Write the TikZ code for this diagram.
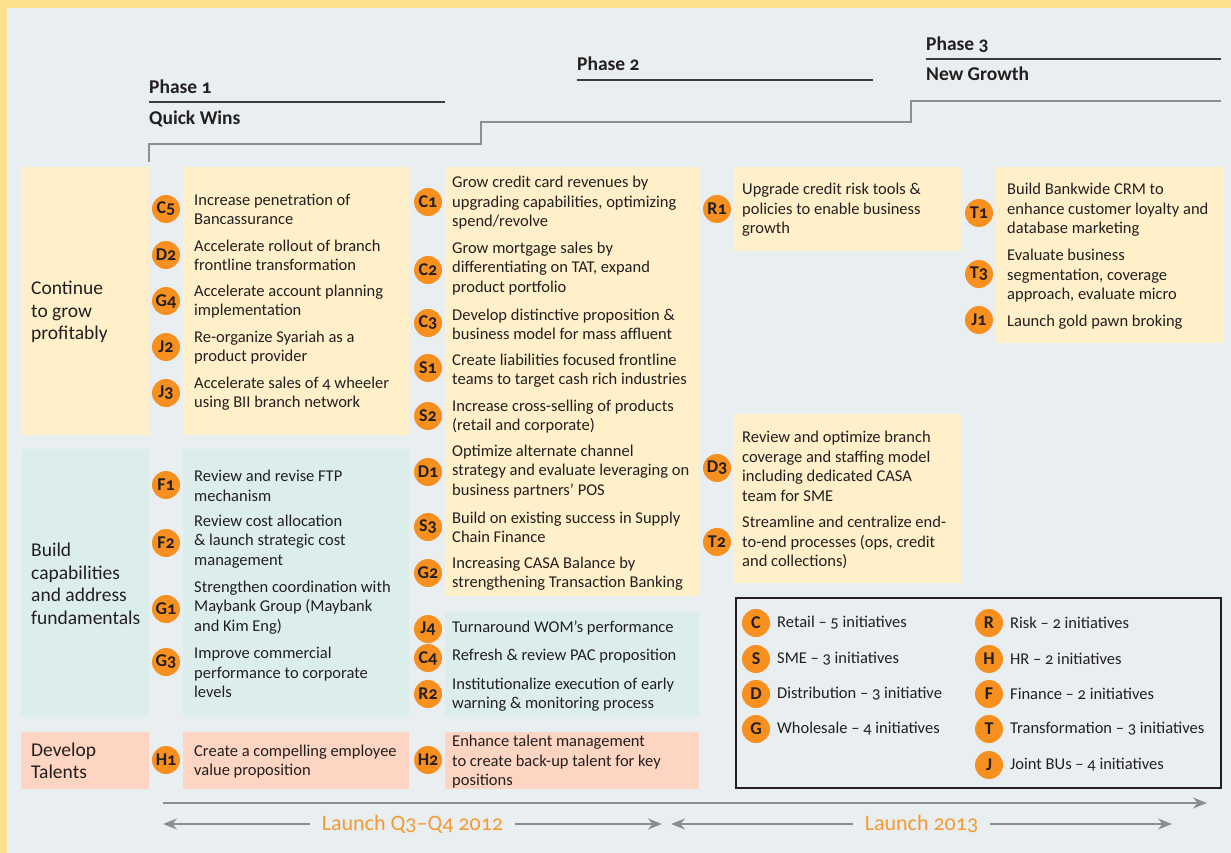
\documentclass[tikz,border=0pt]{standalone}
\usepackage{fontspec}
\setmainfont[Numbers=OldStyle]{Carlito}
\usetikzlibrary{arrows.meta}

\definecolor{frameyellow}{HTML}{FFE08F}
\definecolor{paper}{HTML}{E9EEF1}
\definecolor{growbox}{HTML}{FFF0C9}
\definecolor{buildbox}{HTML}{DCEEEC}
\definecolor{talentbox}{HTML}{FDD5C2}
\definecolor{badgeorange}{HTML}{F7901E}
\definecolor{launchorange}{HTML}{F49A32}
\definecolor{arrowgrey}{HTML}{8E8E8E}
\definecolor{rulegrey}{HTML}{3C3C3C}
\definecolor{ink}{HTML}{231F20}

\begin{document}
\begin{tikzpicture}[x=1pt, y=-1pt,
	badge/.style={circle, fill=badgeorange, text=ink, minimum size=28pt, inner sep=0pt,
		font=\bfseries\fontsize{18}{18}\selectfont},
	item/.style={anchor=west, align=left, inner sep=0pt, text=ink,
		font=\fontsize{16.5}{19.5}\selectfont},
	theme/.style={anchor=west, align=left, inner sep=0pt, text=ink,
		font=\fontsize{19.5}{22.5}\selectfont},
	phase/.style={anchor=base west, inner sep=0pt, text=ink,
		font=\bfseries\fontsize{19.5}{19.5}\selectfont},
	phaserule/.style={rulegrey, line width=1.8pt},
	stepline/.style={arrowgrey, line width=2pt},
	launch/.style={fill=paper, inner xsep=12pt, text=launchorange,
		font=\fontsize{22}{22}\selectfont},
	timeline/.style={arrowgrey, line width=2.5pt},
]
	\useasboundingbox (0,0) rectangle (1231,853);

	% frame and paper
	\fill[frameyellow] (0,0) rectangle (1231,853);
	\fill[paper] (7,8) rectangle (1231,853);

	% phase headings
	\node[phase] (phase1) at (149,94) {Phase 1};
	\node[phase] (wins) at (149,125) {Quick Wins};
	\draw[phaserule] (149,102) -- (445,102);
	\node[phase] (phase2) at (577,71) {Phase 2};
	\draw[phaserule] (577,80) -- (873,80);
	\node[phase] (phase3) at (926,51) {Phase 3};
	\node[phase] (growth) at (926,81) {New Growth};
	\draw[phaserule] (926,59) -- (1221,59);
	\draw[stepline] (149,162) |- (481,144) |- (911,122) |- (1221,101);

	% panels
	\fill[growbox] (21,167) rectangle (149,435);
	\fill[growbox] (183,167) rectangle (409,435);
	\fill[growbox] (445,167) rectangle (699,596);
	\fill[growbox] (734,167) rectangle (961,251);
	\fill[growbox] (996,167) rectangle (1223,343);
	\fill[growbox] (733,414) rectangle (961,583);
	\fill[buildbox] (21,449) rectangle (149,717);
	\fill[buildbox] (183,449) rectangle (409,717);
	\fill[buildbox] (445,612) rectangle (699,717);
	\fill[talentbox] (21,732) rectangle (149,789);
	\fill[talentbox] (183,732) rectangle (409,789);
	\fill[talentbox] (445,732) rectangle (699,789);

	% themes
	\node[theme] (grow) at (31,312) {Continue\\to grow\\profitably};
	\node[theme] (build) at (31,584) {Build\\capabilities\\and address\\fundamentals};
	\node[theme] (talent) at (31,761) {Develop\\Talents};

	% quick wins
	\node[badge] (C5) at (166,209) {C5};
	\node[item] (C5-text) at (194,209.5) {Increase penetration of\\Bancassurance};
	\node[badge] (D2) at (166,255) {D2};
	\node[item] (D2-text) at (194,255.5) {Accelerate rollout of branch\\frontline transformation};
	\node[badge] (G4) at (166,301) {G4};
	\node[item] (G4-text) at (194,301.5) {Accelerate account planning\\implementation};
	\node[badge] (J2) at (166,347) {J2};
	\node[item] (J2-text) at (194,347.5) {Re-organize Syariah as a\\product provider};
	\node[badge] (J3) at (166,393) {J3};
	\node[item] (J3-text) at (194,393.5) {Accelerate sales of 4 wheeler\\using BII branch network};
	\node[badge] (F1) at (166,485) {F1};
	\node[item] (F1-text) at (194,486) {Review and revise FTP\\mechanism};
	\node[badge] (F2) at (166,543) {F2};
	\node[item] (F2-text) at (194,541.5) {Review cost allocation\\\& launch strategic cost\\management};
	\node[badge] (G1) at (166,609) {G1};
	\node[item] (G1-text) at (194,607.5) {Strengthen coordination with\\Maybank Group (Maybank\\and Kim Eng)};
	\node[badge] (G3) at (166,662) {G3};
	\node[item] (G3-text) at (194,672.5) {Improve commercial\\performance to corporate\\levels};
	\node[badge] (H1) at (166,760) {H1};
	\node[item] (H1-text) at (194,761.5) {Create a compelling employee\\value proposition};

	\node[badge] (C1) at (428,202) {C1};
	\node[item] (C1-text) at (452,203) {Grow credit card revenues by\\upgrading capabilities, optimizing\\spend/revolve};
	\node[badge] (C2) at (428,270) {C2};
	\node[item] (C2-text) at (452,268.5) {Grow mortgage sales by\\differentiating on TAT, expand\\product portfolio};
	\node[badge] (C3) at (428,323) {C3};
	\node[item] (C3-text) at (452,324.5) {Develop distinctive proposition \&\\business model for mass affluent};
	\node[badge] (S1) at (428,368) {S1};
	\node[item] (S1-text) at (452,370.5) {Create liabilities focused frontline\\teams to target cash rich industries};
	\node[badge] (S2) at (428,416) {S2};
	\node[item] (S2-text) at (452,416.5) {Increase cross-selling of products\\(retail and corporate)};
	\node[badge] (D1) at (428,472) {D1};
	\node[item] (D1-text) at (452,471.5) {Optimize alternate channel\\strategy and evaluate leveraging on\\business partners’ POS};
	\node[badge] (S3) at (428,527) {S3};
	\node[item] (S3-text) at (452,527.5) {Build on existing success in Supply\\Chain Finance};
	\node[badge] (G2) at (428,573) {G2};
	\node[item] (G2-text) at (452,573.5) {Increasing CASA Balance by\\strengthening Transaction Banking};
	\node[badge] (J4) at (428,629) {J4};
	\node[item] (J4-text) at (452,628) {Turnaround WOM’s performance};
	\node[badge] (C4) at (428,658) {C4};
	\node[item] (C4-text) at (452,656) {Refresh \& review PAC proposition};
	\node[badge] (R2) at (428,694) {R2};
	\node[item] (R2-text) at (452,694.5) {Institutionalize execution of early\\warning \& monitoring process};
	\node[badge] (H2) at (428,760) {H2};
	\node[item] (H2-text) at (452,762) {Enhance talent management\\to create back-up talent for key\\positions};

	% new growth
	\node[badge] (R1) at (717,209) {R1};
	\node[item] (R1-text) at (742,210) {Upgrade credit risk tools \&\\policies to enable business\\growth};
	\node[badge] (D3) at (717,468) {D3};
	\node[item] (D3-text) at (742,466.5) {Review and optimize branch\\coverage and staffing model\\including dedicated CASA\\team for SME};
	\node[badge] (T2) at (717,542) {T2};
	\node[item] (T2-text) at (742,542.5) {Streamline and centralize end-\\to-end processes (ops, credit\\and collections)};
	\node[badge] (T1) at (979,213) {T1};
	\node[item] (T1-text) at (1007,210) {Build Bankwide CRM to\\enhance customer loyalty and\\database marketing};
	\node[badge] (T3) at (979,274) {T3};
	\node[item] (T3-text) at (1007,276) {Evaluate business\\segmentation, coverage\\approach, evaluate micro};
	\node[badge] (J1) at (979,320) {J1};
	\node[item] (J1-text) at (1007,322) {Launch gold pawn broking};

	% key
	\draw[ink, line width=1.2pt] (736,598) rectangle (1221,788);
	\node[badge] (key-C) at (756,623) {C};
	\node[item] (key-C-text) at (777,623) {Retail – 5 initiatives};
	\node[badge] (key-S) at (756,659) {S};
	\node[item] (key-S-text) at (777,659) {SME – 3 initiatives};
	\node[badge] (key-D) at (756,694) {D};
	\node[item] (key-D-text) at (777,694) {Distribution – 3 initiative};
	\node[badge] (key-G) at (756,729) {G};
	\node[item] (key-G-text) at (777,729) {Wholesale – 4 initiatives};
	\node[badge] (key-R) at (989,623) {R};
	\node[item] (key-R-text) at (1010,623) {Risk – 2 initiatives};
	\node[badge] (key-H) at (989,659) {H};
	\node[item] (key-H-text) at (1010,659) {HR – 2 initiatives};
	\node[badge] (key-F) at (989,694) {F};
	\node[item] (key-F-text) at (1010,694) {Finance – 2 initiatives};
	\node[badge] (key-T) at (989,729) {T};
	\node[item] (key-T-text) at (1010,729) {Transformation – 3 initiatives};
	\node[badge] (key-J) at (989,765) {J};
	\node[item] (key-J-text) at (1010,765) {Joint BUs – 4 initiatives};

	% timeline
	\coordinate (run-start) at (163,803);
	\coordinate (run-end) at (1207,803);
	\coordinate (q-start) at (163,824);
	\coordinate (q-end) at (662,824);
	\coordinate (y-start) at (671,824);
	\coordinate (y-end) at (1172,824);
	\draw[timeline, -{Stealth[length=14pt, width=11pt]}] (run-start) -- (run-end);
	\draw[timeline, {Stealth[length=14pt, width=11pt]}-{Stealth[length=14pt, width=11pt]}]
		(q-start) -- node[launch] (q-label) {Launch Q3–Q4 2012} (q-end);
	\draw[timeline, {Stealth[length=14pt, width=11pt]}-{Stealth[length=14pt, width=11pt]}]
		(y-start) -- node[launch] (y-label) {Launch 2013} (y-end);

\end{tikzpicture}
\end{document}
